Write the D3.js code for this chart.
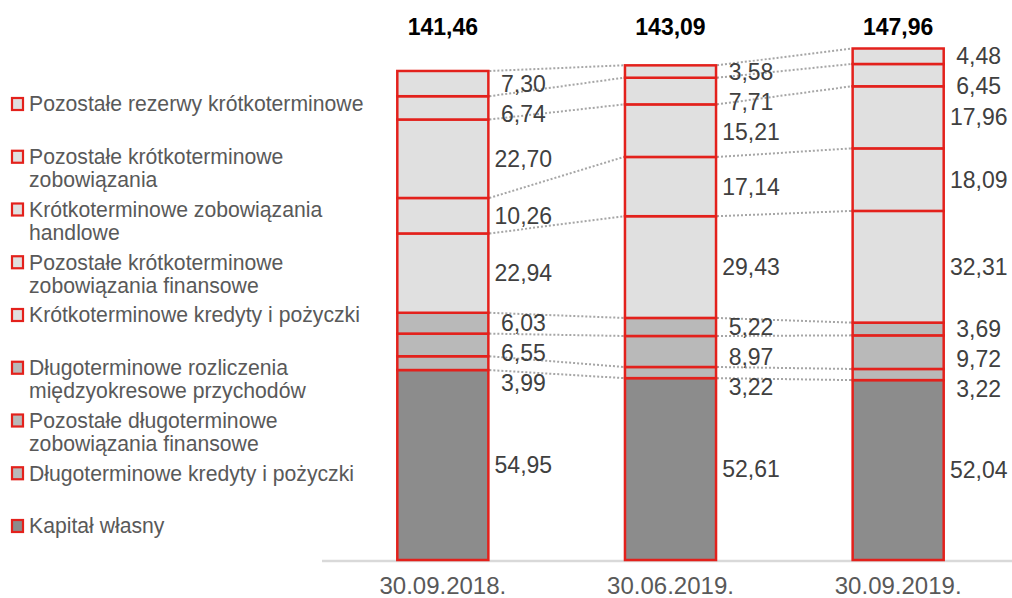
<!DOCTYPE html>
<html>
<head>
<meta charset="utf-8">
<script src="https://cdn.jsdelivr.net/npm/d3@7"></script>
<style>
  body { margin: 0; background: #fff; }
  svg { font-family: "Liberation Sans", Arial, sans-serif; }
</style>
</head>
<body>
<div id="chart"></div>
<script>
// data, bottom segment first
let periods = ["30.09.2018.", "30.06.2019.", "30.09.2019."];
let totals = ["141,46", "143,09", "147,96"];
let series = [
  "Kapitał własny",
  "Długoterminowe kredyty i pożyczki",
  "Pozostałe długoterminowe zobowiązania finansowe",
  "Długoterminowe rozliczenia międzyokresowe przychodów",
  "Krótkoterminowe kredyty i pożyczki",
  "Pozostałe krótkoterminowe zobowiązania finansowe",
  "Krótkoterminowe zobowiązania handlowe",
  "Pozostałe krótkoterminowe zobowiązania",
  "Pozostałe rezerwy krótkoterminowe"
];
// legend text, split in lines (top to bottom)
let legendLines = [
  ["Pozostałe rezerwy krótkoterminowe"],
  ["Pozostałe krótkoterminowe", "zobowiązania"],
  ["Krótkoterminowe zobowiązania", "handlowe"],
  ["Pozostałe krótkoterminowe", "zobowiązania finansowe"],
  ["Krótkoterminowe kredyty i pożyczki"],
  ["Długoterminowe rozliczenia", "międzyokresowe przychodów"],
  ["Pozostałe długoterminowe", "zobowiązania finansowe"],
  ["Długoterminowe kredyty i pożyczki"],
  ["Kapitał własny"]
];
let values2018q3 = [54.95, 3.99, 6.55, 6.03, 22.94, 10.26, 22.70, 6.74, 7.30];
let values2019q2 = [52.61, 3.22, 8.97, 5.22, 29.43, 17.14, 15.21, 7.71, 3.58];
let values2019q3 = [52.04, 3.22, 9.72, 3.69, 32.31, 18.09, 17.96, 6.45, 4.48];

let allValues = [values2018q3, values2019q2, values2019q3];

const W = 1012, H = 598;
const red = "#e3211c";
// equity / long-term / short-term fills
const fills = ["#8c8c8c", "#b9b9b9", "#b9b9b9", "#b9b9b9",
  "#e0e0e0", "#e0e0e0", "#e0e0e0", "#e0e0e0", "#e0e0e0"];
const fmt = v => v.toFixed(2).replace(".", ",");

let svg = d3.select("#chart").append("svg")
  .attr("width", W)
  .attr("height", H);

let x = d3.scaleBand()
  .domain(periods)
  .range([329, 1012])
  .paddingInner(0.6)
  .paddingOuter(0.3);

let y = d3.scaleLinear()
  .domain([0, 150])
  .range([560, 41.45]);

// build stacks
let stacks = allValues.map((vals, i) => {
  let acc = 0;
  return vals.map((v, j) => {
    let seg = {period: periods[i], idx: j, value: v, y0: acc, y1: acc + v};
    acc += v;
    return seg;
  });
});

// baseline
svg.append("line")
  .attr("x1", 322).attr("x2", W)
  .attr("y1", 561).attr("y2", 561)
  .attr("stroke", "#d9d9d9")
  .attr("stroke-width", 2.5);

// dotted connectors between bars
for (let i = 0; i < stacks.length - 1; i++) {
  stacks[i].forEach((seg, j) => {
    let next = stacks[i + 1][j];
    svg.append("line")
      .attr("x1", x(seg.period) + x.bandwidth() + 1)
      .attr("y1", y(seg.y1))
      .attr("x2", x(next.period) - 1)
      .attr("y2", y(next.y1))
      .attr("stroke", "#a6a6a6")
      .attr("stroke-width", 2)
      .attr("stroke-dasharray", "2,2");
  });
}

// bars
stacks.forEach(stack => {
  svg.append("g").selectAll("rect")
    .data(stack)
    .join("rect")
    .attr("x", d => x(d.period))
    .attr("y", d => y(d.y1))
    .attr("width", x.bandwidth())
    .attr("height", d => y(d.y0) - y(d.y1))
    .attr("fill", d => fills[d.idx])
    .attr("stroke", red)
    .attr("stroke-width", 2.5);
});

// value labels, pushed apart top-down so they do not overlap
stacks.forEach(stack => {
  let labels = stack.map(d => ({d: d, cy: y((d.y0 + d.y1) / 2)}))
    .sort((a, b) => a.cy - b.cy);
  for (let k = 1; k < labels.length; k++) {
    if (labels[k].cy - labels[k - 1].cy < 30) labels[k].cy = labels[k - 1].cy + 30;
  }
  svg.append("g").selectAll("text")
    .data(labels)
    .join("text")
    .attr("x", l => x(l.d.period) + x.bandwidth() + 35)
    .attr("y", l => l.cy)
    .attr("dy", "0.35em")
    .attr("text-anchor", "middle")
    .attr("font-size", 23)
    .attr("fill", "#404040")
    .text(l => fmt(l.d.value));
});

// totals
svg.append("g").selectAll("text")
  .data(periods)
  .join("text")
  .attr("x", d => x(d) + x.bandwidth() / 2)
  .attr("y", 35)
  .attr("text-anchor", "middle")
  .attr("font-size", 23)
  .attr("font-weight", "bold")
  .attr("fill", "#000")
  .text((d, i) => totals[i]);

// category axis
svg.append("g")
  .attr("transform", "translate(0,560)")
  .call(d3.axisBottom(x).tickSize(0).tickPadding(0))
  .call(g => g.select(".domain").remove())
  .call(g => g.selectAll("text")
    .attr("y", 34)
    .attr("dy", 0)
    .attr("font-size", 24)
    .attr("font-family", "Liberation Sans, Arial, sans-serif")
    .attr("fill", "#595959"));

// legend
let legend = svg.append("g");
legendLines.forEach((lines, i) => {
  let cy = 104 + i * 52.75;
  let segIdx = series.length - 1 - i;
  legend.append("rect")
    .attr("x", 12).attr("y", cy - 6)
    .attr("width", 11).attr("height", 12)
    .attr("fill", fills[segIdx])
    .attr("stroke", red)
    .attr("stroke-width", 2.2);
  lines.forEach((t, k) => {
    legend.append("text")
      .attr("x", 29)
      .attr("y", cy + k * 23)
      .attr("dy", "0.35em")
      .attr("font-size", 21.2)
      .attr("fill", "#595959")
      .text(t);
  });
});
</script>
</body>
</html>
